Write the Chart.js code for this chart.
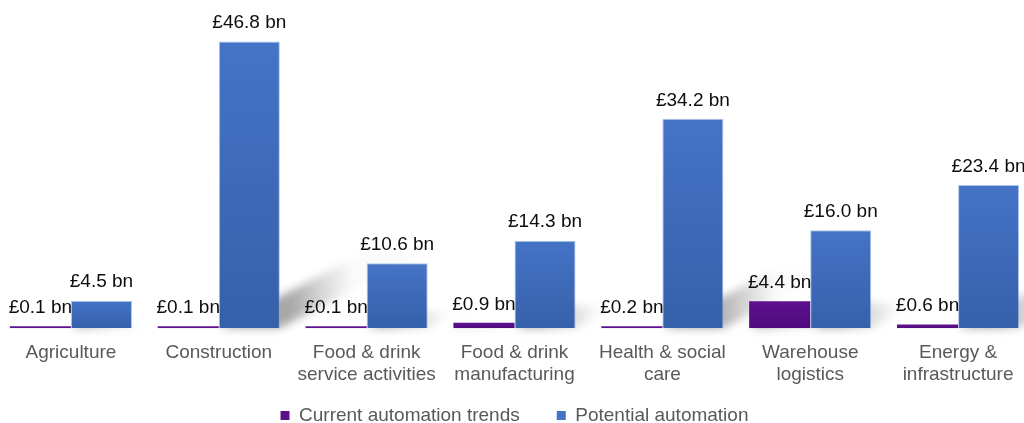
<!DOCTYPE html>
<html>
<head>
<meta charset="utf-8">
<script src="https://cdn.jsdelivr.net/npm/chart.js@4"></script>
<style>
  html, body { margin: 0; padding: 0; background: #fff; overflow: hidden; }
  #wrap { position: absolute; left: -3px; top: 0; width: 1035px; height: 423px; }
</style>
</head>
<body>
<div id="wrap"><canvas id="automationChart" width="1035" height="423"></canvas></div>
<script>
const sectors = [
  "Agriculture",
  "Construction",
  ["Food & drink", "service activities"],
  ["Food & drink", "manufacturing"],
  ["Health & social", "care"],
  ["Warehouse", "logistics"],
  ["Energy &", "infrastructure"]
];
const currentTrends = [0.1, 0.1, 0.1, 0.9, 0.2, 4.4, 0.6];
const potentialAutomation = [4.5, 46.8, 10.6, 14.3, 34.2, 16.0, 23.4];

const FONT = "'Liberation Sans', Arial, sans-serif";

// vertical gradient per bar, lighter at the top
function barGradient(top, bottom) {
  return (ctx) => {
    const chart = ctx.chart;
    const y = chart.scales && chart.scales.y;
    if (!y || ctx.raw === undefined) return top;
    const yTop = y.getPixelForValue(ctx.raw);
    const yBase = y.getPixelForValue(0);
    if (!isFinite(yTop) || yBase - yTop < 2) return top;
    const g = chart.ctx.createLinearGradient(0, yTop, 0, yBase);
    g.addColorStop(0, top);
    g.addColorStop(1, bottom);
    return g;
  };
}

// slanted shadows falling to the right of each bar, darkest along the left edge
const barShadows = {
  id: "barShadows",
  beforeDatasetsDraw(chart) {
    const ctx = chart.ctx;
    ctx.save();
    ctx.filter = "blur(4px)";
    chart.data.datasets.forEach((ds, i) => {
      chart.getDatasetMeta(i).data.forEach(bar => {
        const h = bar.base - bar.y;
        if (h < 4) return;
        const half = bar.width / 2;
        const dx = h * 0.5, dy = h * 0.26;
        const x0 = bar.x - half + dx * 0.5;
        const g = ctx.createLinearGradient(x0, 0, x0 + bar.width, 0);
        g.addColorStop(0, "rgba(0,0,0,0.34)");
        g.addColorStop(0.5, "rgba(0,0,0,0.16)");
        g.addColorStop(1, "rgba(0,0,0,0.02)");
        ctx.fillStyle = g;
        ctx.beginPath();
        ctx.moveTo(bar.x - half, bar.base);
        ctx.lineTo(bar.x + half, bar.base);
        ctx.lineTo(bar.x + half + dx, bar.base - dy);
        ctx.lineTo(bar.x - half + dx, bar.base - dy);
        ctx.closePath();
        ctx.fill();
      });
    });
    ctx.restore();
  }
};

// "£x.x bn" above every bar
const valueLabels = {
  id: "valueLabels",
  afterDatasetsDraw(chart) {
    const ctx = chart.ctx;
    ctx.save();
    ctx.font = "19px " + FONT;
    ctx.fillStyle = "#0d0d0d";
    ctx.textAlign = "center";
    ctx.textBaseline = "bottom";
    chart.data.datasets.forEach((ds, i) => {
      chart.getDatasetMeta(i).data.forEach((bar, j) => {
        ctx.fillText("£" + ds.data[j].toFixed(1) + " bn", bar.x, bar.y - 9);
      });
    });
    ctx.restore();
  }
};

// a shorter legend box lets the plot sit lower; the items are then moved up
const LEGEND_SHRINK = 35;
const LEGEND_LIFT = 23;
const legendFit = {
  id: "legendFit",
  afterInit(chart) {
    const legend = chart.legend;
    if (!legend) return;
    const fit = legend.fit.bind(legend);
    legend.fit = function () {
      fit();
      this.height -= LEGEND_SHRINK;
    };
    // draw without clipping to the shortened box
    legend.draw = function () {
      if (this.options.display) this._draw();
    };
  },
  afterLayout(chart) {
    const legend = chart.legend;
    if (!legend) return;
    legend.top -= LEGEND_LIFT;
    legend.bottom -= LEGEND_LIFT;
  }
};

new Chart(document.getElementById("automationChart"), {
  type: "bar",
  data: {
    labels: sectors,
    datasets: [
      {
        label: "Current automation trends",
        data: currentTrends,
        backgroundColor: barGradient("#5e1190", "#500a7c"),
        borderWidth: 0,
        minBarLength: 2
      },
      {
        label: "Potential automation",
        data: potentialAutomation,
        backgroundColor: barGradient("#4573c6", "#3560aa"),
        borderColor: "rgba(120,160,220,0.6)",
        borderWidth: 1
      }
    ]
  },
  options: {
    responsive: false,
    animation: false,
    layout: { padding: { top: 22, left: 0, right: 0, bottom: 0 } },
    datasets: {
      bar: { barPercentage: 1, categoryPercentage: 0.826 }
    },
    plugins: {
      legend: {
        position: "bottom",
        labels: {
          color: "#595959",
          font: { family: FONT, size: 19 },
          boxWidth: 9,
          boxHeight: 9,
          padding: 37,
          generateLabels(chart) {
            const fills = ["#5c0f8b", "#4472c4"];
            return chart.data.datasets.map((ds, i) => ({
              text: ds.label,
              fillStyle: fills[i],
              strokeStyle: fills[i],
              lineWidth: 0,
              fontColor: "#595959",
              datasetIndex: i
            }));
          }
        }
      },
      tooltip: { enabled: false }
    },
    scales: {
      x: {
        grid: { display: false },
        border: { display: false },
        ticks: {
          color: "#595959",
          font: { family: FONT, size: 19, lineHeight: 1.15 },
          padding: 6,
          maxRotation: 0,
          autoSkip: false
        }
      },
      y: {
        display: false,
        min: 0,
        max: 50
      }
    }
  },
  plugins: [barShadows, valueLabels, legendFit]
});
</script>
</body>
</html>
